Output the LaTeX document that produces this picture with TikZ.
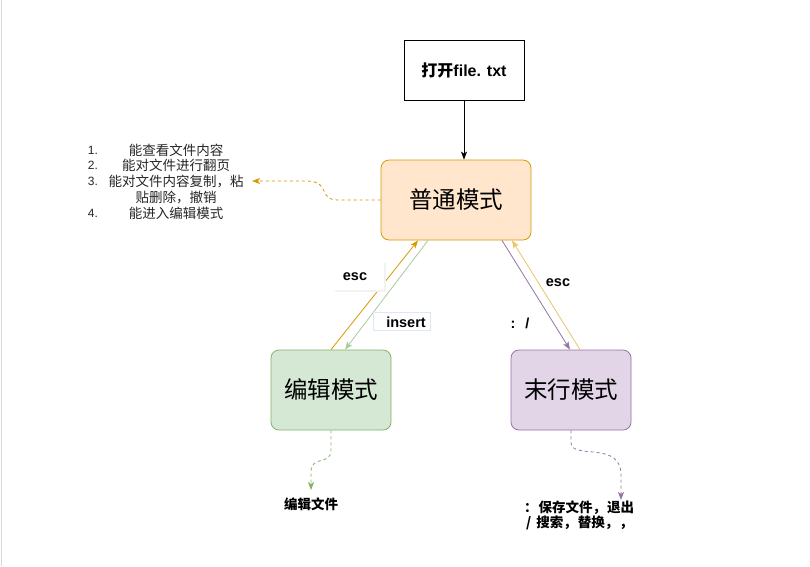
\documentclass[tikz,border=0pt]{standalone}
\usepackage{fontspec}
\setmainfont{Liberation Sans}
\newfontfamily\cjk{Noto Sans CJK SC}
\usetikzlibrary{arrows.meta}
\definecolor{orgF}{HTML}{FFE6CC}\definecolor{orgD}{HTML}{D79B00}
\definecolor{grnF}{HTML}{D5E8D4}\definecolor{grnD}{HTML}{82B366}
\definecolor{purF}{HTML}{E1D5E7}\definecolor{purD}{HTML}{9673A6}
\definecolor{orgL}{HTML}{E8C56A}\definecolor{grnL}{HTML}{A9CB9B}
\definecolor{glow}{HTML}{DCE8F8}
\begin{document}
\begin{tikzpicture}[x=1pt,y=-1pt,
  modebox/.style={rounded corners=8pt,minimum width=120pt,minimum height=80pt,line width=0.8pt,font=\cjk\fontsize{23.5}{26}\selectfont},
  tip/.style={-{Stealth[length=8pt,width=6pt,inset=2pt]}},
  dtip/.style={-{Stealth[length=8pt,width=6pt,inset=2pt]},dashed,dash pattern=on 3pt off 3pt,line width=0.8pt},
  lst/.style={font=\fontsize{12}{13}\selectfont,text=black!85,inner sep=0pt},
  lstc/.style={font=\cjk\fontsize{13.5}{14}\selectfont,text=black!85,inner sep=0pt},
  bold13/.style={font=\cjk\bfseries\fontsize{13.5}{15}\selectfont,inner sep=0pt}]
\useasboundingbox (0,0) rectangle (810,566);
\fill[white] (0,0) rectangle (810,566);
\draw[black!15,line width=1pt] (1.5,0) -- (1.5,566);
% boxes
\node[draw=black,fill=white,minimum width=120pt,minimum height=60pt,line width=0.8pt] (open) at (464,70) {{\cjk\bfseries\fontsize{16}{18}\selectfont 打开}\textbf{\fontsize{16}{18}\selectfont file. txt}};
\node[modebox,draw=orgD,fill=orgF,minimum width=150pt] (pt) at (456,200) {普通模式};
\node[modebox,draw=grnD,fill=grnF] (bj) at (331,390) {编辑模式};
\node[modebox,draw=purD,fill=purF] (my) at (571,390) {末行模式};
% top arrow
\draw[tip,line width=0.8pt] (open.south) -- (open.south |- pt.north);
% left list
\node[lst] (n1) at (93,150) {1.};
\node[lstc] (l1) at (176,150) {能查看文件内容};
\node[lst] (n2) at (93,165) {2.};
\node[lstc] (l2) at (176,165) {能对文件进行翻页};
\node[lst] (n3) at (93,181) {3.};
\node[lstc] (l3) at (176,181) {能对文件内容复制，粘};
\node[lstc] (l3b) at (176,197) {贴删除，撤销};
\node[lst] (n4) at (93,213) {4.};
\node[lstc] (l4) at (176,213) {能进入编辑模式};
\coordinate (lend) at (252,181);
\draw[dtip,draw=orgD] (pt.west) -- ++(-42,0) .. controls ++(-22,0) and (332,181) .. (306,181) -- (lend);
% left connectors
\draw[tip,draw=orgD,line width=0.8pt] ([xshift=0pt]bj.north) -- ([xshift=-38pt]pt.south);
\draw[tip,draw=grnL,line width=0.8pt] ([xshift=-28pt]pt.south) -- ([xshift=14pt]bj.north);
% right connectors
\draw[tip,draw=purD,line width=0.8pt] ([xshift=46pt]pt.south) -- ([xshift=-1pt]my.north);
\draw[tip,draw=orgL,line width=0.8pt] ([xshift=9pt]my.north) -- ([xshift=56pt]pt.south);
% labels
\fill[black!5] (334.5,262.5) rectangle (386,292);
\node[fill=white,minimum width=51pt,minimum height=28pt,inner sep=0pt] (escL) at (358.5,275.5) {};
\node[font=\bfseries\fontsize{14.5}{16}\selectfont,inner sep=0pt] (escLt) at (355,277) {esc};
\node[fill=white,draw=glow,line width=1.5pt,minimum width=57pt,minimum height=18pt,inner sep=0pt] (ins) at (402,321.5) {};
\node[font=\bfseries\fontsize{14.5}{16}\selectfont,inner sep=0pt] (inst) at (406,322) {insert};
\node[font=\bfseries\fontsize{14.5}{16}\selectfont,inner sep=0pt] (escR) at (558,283) {esc};
\node[font=\bfseries\fontsize{14.5}{16}\selectfont,inner sep=0pt] (colon) at (520,323) {:\hspace{10pt}/};
% bottom dashed
\coordinate (bjend) at (311,490);
\draw[dtip,draw=grnD] (bj.south) -- ++(0,20) .. controls ++(0,15) and (311,455) .. (311,472) -- (bjend);
\node[bold13] (bjt) at (311,504) {编辑文件};
\coordinate (myend) at (621,500);
\draw[dtip,draw=purD] (my.south) -- ++(0,12) .. controls ++(0,18) and (621,440) .. (621,475) -- (myend);
\node[bold13,anchor=west] (myt1) at (524,508) {：\hspace{1pt}保存文件，\hspace{1pt}退出};
\node[bold13,anchor=west] (myt2) at (526,523) {/\hspace{5pt}搜索，\hspace{1pt}替换，\hspace{1pt}，};
\end{tikzpicture}
\end{document}
